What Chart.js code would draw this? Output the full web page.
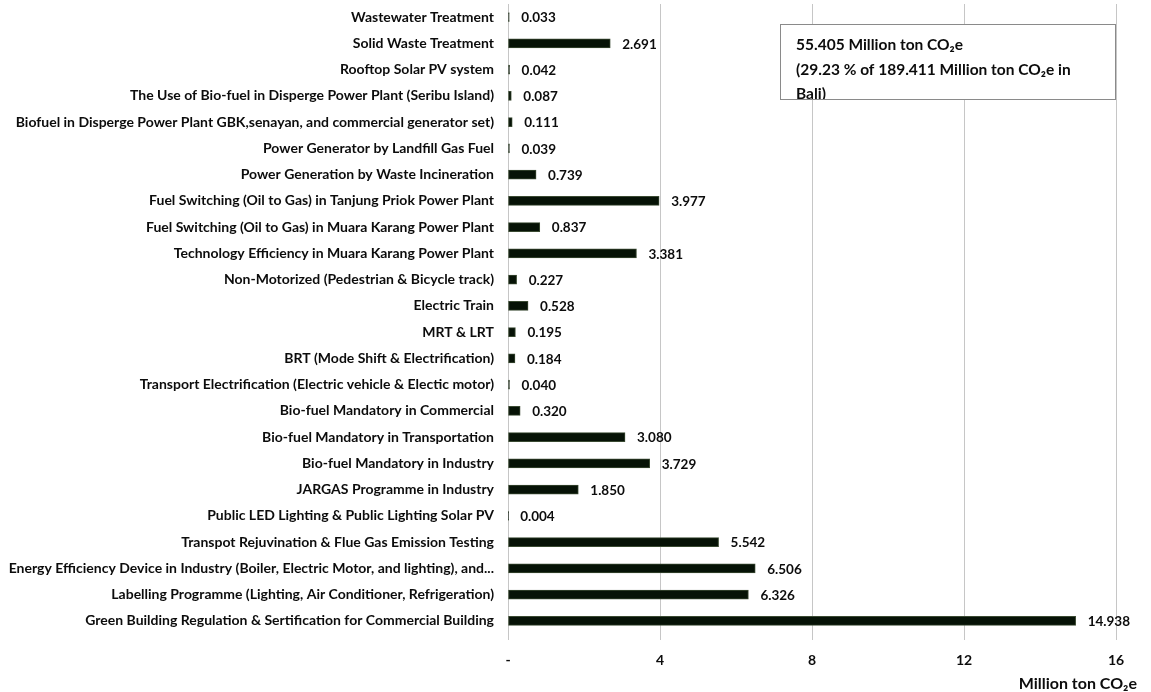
<!DOCTYPE html>
<html>
<head>
<meta charset="utf-8">
<style>
  html, body { margin: 0; padding: 0; background: #fff; }
  #wrap { width: 1151px; height: 692px; position: relative; }
</style>
<script src="https://cdn.jsdelivr.net/npm/chart.js@4"></script>
</head>
<body>
<div id="wrap"><canvas id="c" width="1151" height="692"></canvas></div>
<script>
const categories = [
  "Wastewater Treatment",
  "Solid Waste Treatment",
  "Rooftop Solar PV system",
  "The Use of Bio-fuel in Disperge Power Plant (Seribu Island)",
  "Biofuel in Disperge Power Plant GBK,senayan, and commercial generator set)",
  "Power Generator by Landfill Gas Fuel",
  "Power Generation by Waste Incineration",
  "Fuel Switching (Oil to Gas) in Tanjung Priok Power Plant",
  "Fuel Switching (Oil to Gas) in Muara Karang Power Plant",
  "Technology Efficiency in Muara Karang Power Plant",
  "Non-Motorized (Pedestrian & Bicycle track)",
  "Electric Train",
  "MRT & LRT",
  "BRT (Mode Shift & Electrification)",
  "Transport Electrification (Electric vehicle & Electic motor)",
  "Bio-fuel Mandatory in Commercial",
  "Bio-fuel Mandatory in Transportation",
  "Bio-fuel Mandatory in Industry",
  "JARGAS Programme in Industry",
  "Public LED Lighting & Public Lighting Solar PV",
  "Transpot Rejuvination & Flue Gas Emission Testing",
  "Energy Efficiency Device in Industry (Boiler, Electric Motor, and lighting), and...",
  "Labelling Programme (Lighting, Air Conditioner, Refrigeration)",
  "Green Building Regulation & Sertification for Commercial Building"
];
const reductionValues = [
  0.033, 2.691, 0.042, 0.087, 0.111, 0.039, 0.739, 3.977, 0.837, 3.381,
  0.227, 0.528, 0.195, 0.184, 0.040, 0.320, 3.080, 3.729, 1.850, 0.004,
  5.542, 6.506, 6.326, 14.938
];
const xTicks = [0, 4, 8, 12, 16];
const xTickLabels = ["-", "4", "8", "12", "16"];
const axisTitle = "Million ton CO\u2082e";
const noteLines = [
  "55.405 Million ton CO\u2082e",
  "(29.23 % of 189.411 Million ton CO\u2082e in",
  "Bali)"
];

const FONT = "Lato, 'Open Sans', 'DejaVu Sans', sans-serif";
const TEXT = "#0c0c0c";

const valueLabels = {
  id: 'valueLabels',
  afterDatasetsDraw(chart) {
    const ctx = chart.ctx;
    const meta = chart.getDatasetMeta(0);
    ctx.save();
    ctx.font = "bold 13.5px " + FONT;
    ctx.fillStyle = TEXT;
    ctx.textAlign = "left";
    ctx.textBaseline = "middle";
    meta.data.forEach((el, i) => {
      ctx.fillText(reductionValues[i].toFixed(3), el.x + 12, el.y + 1);
    });
    ctx.restore();
  }
};

const noteBox = {
  id: 'noteBox',
  afterDraw(chart) {
    const ctx = chart.ctx;
    const x = 780, y = 24, w = 335, h = 75;
    ctx.save();
    ctx.fillStyle = "#fff";
    ctx.fillRect(x, y, w, h);
    ctx.beginPath();
    ctx.rect(x, y, w, h);
    ctx.clip();
    ctx.font = "bold 15.5px " + FONT;
    ctx.fillStyle = TEXT;
    ctx.textAlign = "left";
    ctx.textBaseline = "middle";
    noteLines.forEach((t, i) => ctx.fillText(t, x + 16, y + 21 + i * 24.5));
    ctx.restore();
    ctx.save();
    ctx.strokeStyle = "#8a8a8a";
    ctx.lineWidth = 1;
    ctx.strokeRect(x + 0.5, y + 0.5, w, h);
    ctx.restore();
  }
};

const axisTitlePlugin = {
  id: 'axisTitlePlugin',
  afterDraw(chart) {
    const ctx = chart.ctx;
    ctx.save();
    ctx.font = "bold 16px " + FONT;
    ctx.fillStyle = TEXT;
    ctx.textAlign = "right";
    ctx.textBaseline = "middle";
    ctx.fillText(axisTitle, chart.chartArea.right + 21, 684);
    ctx.restore();
  }
};

new Chart(document.getElementById('c'), {
  type: 'bar',
  data: {
    labels: categories,
    datasets: [{
      data: reductionValues,
      backgroundColor: "#061206",
      borderColor: "#3a4a32",
      borderWidth: 1,
      borderSkipped: false,
      barThickness: 9
    }]
  },
  options: {
    indexAxis: 'y',
    responsive: false,
    animation: false,
    devicePixelRatio: 1,
    layout: { padding: { top: 4, right: 35, bottom: 0, left: 0 } },
    plugins: { legend: { display: false }, tooltip: { enabled: false } },
    scales: {
      x: {
        min: 0, max: 16,
        afterBuildTicks(scale) { scale.ticks = xTicks.map(v => ({ value: v })); },
        afterFit(scale) { scale.height = 58; scale.paddingLeft = 0; scale.paddingRight = 0; },
        grid: { color: "#c6c6c6", lineWidth: 1, tickLength: 6, drawTicks: true },
        border: { display: false },
        ticks: {
          padding: 12,
          color: TEXT,
          font: { family: FONT, size: 14, weight: 'bold' },
          callback(v) { const i = xTicks.indexOf(v); return i >= 0 ? xTickLabels[i] : ''; }
        },
        title: { display: false }
      },
      y: {
        afterFit(scale) { scale.width = 508; scale.paddingTop = 0; scale.paddingBottom = 0; },
        grid: { display: false, drawTicks: false },
        border: { display: true, color: "#c6c6c6" },
        ticks: {
          padding: 14,
          autoSkip: false,
          color: TEXT,
          font: { family: FONT, size: 14, weight: 'bold' }
        }
      }
    }
  },
  plugins: [valueLabels, noteBox, axisTitlePlugin]
});
</script>
</body>
</html>
